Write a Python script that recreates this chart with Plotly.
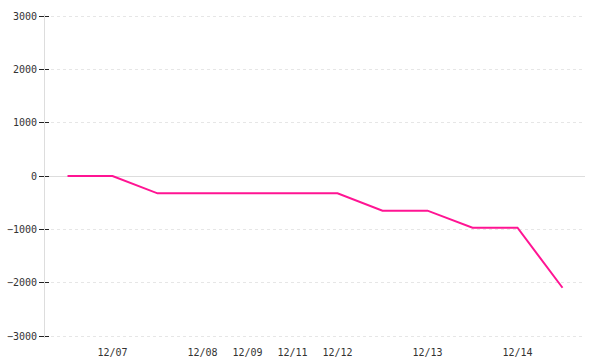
import plotly.graph_objects as go

x_index = [0, 1, 2, 3, 4, 5, 6, 7, 8, 9, 10, 11]
values = [0, 0, -325, -325, -325, -325, -325, -650, -650, -970, -970, -2095]
tick_positions = [1, 3, 4, 5, 6, 8, 10]
tick_labels = ["12/07", "12/08", "12/09", "12/11", "12/12", "12/13", "12/14"]
y_ticks = [-3000, -2000, -1000, 0, 1000, 2000, 3000]

font = dict(family="DejaVu Sans Mono", size=10, color="#333333")
pad = 37.5  # two pixels of value on the y scale

fig = go.Figure()
fig.add_trace(go.Scatter(x=x_index, y=values, mode="lines",
                         line=dict(color="#ff1493", width=2), showlegend=False))
fig.add_trace(go.Scatter(x=[0], y=[0], yaxis="y2", mode="markers",
                         marker=dict(opacity=0), showlegend=False, hoverinfo="skip"))

fig.update_layout(
    width=600, height=360,
    margin=dict(l=45, r=15, t=14, b=22),
    paper_bgcolor="white", plot_bgcolor="white",
    font=font,
    xaxis=dict(range=[-0.5, 11.5], tickvals=tick_positions, ticktext=tick_labels,
               showgrid=False, zeroline=False, showline=False, ticks="",
               tickfont=font, automargin=False, ticklabelstandoff=7),
    yaxis=dict(range=[-3000 - pad, 3000 + pad], tickvals=y_ticks,
               showgrid=True, gridcolor="#e6e6e6", griddash="dot", gridwidth=1,
               zeroline=True, zerolinecolor="#dddddd", zerolinewidth=1,
               showline=True, linecolor="#dddddd", linewidth=1,
               ticks="outside", ticklen=5, tickcolor="#222222", tickwidth=1,
               tickfont=font, automargin=False),
    yaxis2=dict(range=[-3000 - pad, 3000 + pad], tickvals=y_ticks, overlaying="y", side="left",
                showgrid=False, zeroline=False, showline=False,
                ticks="inside", ticklen=4, tickcolor="#222222", tickwidth=1,
                showticklabels=False, automargin=False),
)
fig.write_html("out.html")
